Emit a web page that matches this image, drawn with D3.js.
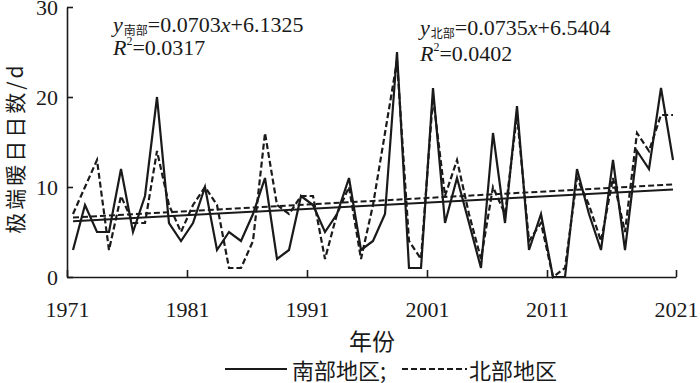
<!DOCTYPE html>
<html>
<head>
<meta charset="utf-8">
<script src="https://cdn.jsdelivr.net/npm/d3@7"></script>
<style>
  html, body { margin: 0; padding: 0; background: #fff; }
  svg { display: block; }
</style>
</head>
<body>
<svg id="chart" width="700" height="383"></svg>
<script>
// ---------- data ----------
const years = d3.range(1971, 2022);
const southValues = [3,8,5,5,12,5,9,20,6,4,
                     6,10,3,5,4,7,11,2,3,9,
                     8,5,7,11,3,4,7,25,1,1,
                     21,6,11,6,1,16,6,19,3,7,
                     0,0,12,7,3,13,3,14,12,21,13];
const northValues = [7,10,13,3,9,6,6,14,8,5,
                     8,10,8,1,1,4,16,8,7,9,
                     9,2,7,10,2,8,16,24,4,2,
                     20,9,13,7,2,10,7,18,4,6,
                     0,1,11,8,4,11,5,16,14,18,18];
const seriesNames = ["南部", "北部"];
const legendNames = ["南部地区;", "北部地区"];
const slopes = [0.0703, 0.0735];
const intercepts = [6.1325, 6.5404];
const r2Values = ["0.0317", "0.0402"];
const xTickYears = [1971, 1981, 1991, 2001, 2011, 2021];
const yTicks = [0, 10, 20, 30];
const yLabel = "极端暖日日数/d";
const xLabel = "年份";

// ---------- layout ----------
const svg = d3.select("#chart");
const ink = "#1a1a1a";
const serif = "'Liberation Serif', 'DejaVu Serif', serif";
const cjk = "'Noto Sans CJK SC', 'Noto Sans', sans-serif";

const xData = d3.scaleLinear().domain([1971, 2021]).range([73, 673]);
const xAxisScale = d3.scaleLinear().domain([1971, 2011, 2021]).range([67, 547, 676]);
const y = d3.scaleLinear().domain([0, 30]).range([277, 7]);

// axes
const gx = svg.append("g").attr("transform", `translate(0,${y(0)})`)
  .call(d3.axisBottom(xAxisScale).tickValues(xTickYears).tickFormat(d3.format("d"))
        .tickSizeInner(-7).tickSizeOuter(0).tickPadding(24));
const gy = svg.append("g").attr("transform", `translate(${xAxisScale(1971)},0)`)
  .call(d3.axisLeft(y).tickValues(yTicks).tickSizeInner(-6).tickSizeOuter(0).tickPadding(9));
[gx, gy].forEach(g => {
  g.selectAll("path, line").attr("stroke", ink).attr("stroke-width", 1.6);
  g.selectAll("text").attr("fill", ink).attr("font-family", serif).attr("font-size", 22);
});

// series lines
const line = d3.line().x((d, i) => xData(years[i])).y(d => y(d));
svg.append("path").datum(southValues).attr("d", line)
  .attr("fill", "none").attr("stroke", ink).attr("stroke-width", 2.2).attr("stroke-linejoin", "miter");
svg.append("path").datum(northValues).attr("d", line)
  .attr("fill", "none").attr("stroke", ink).attr("stroke-width", 2.2).attr("stroke-dasharray", "6,3");

// trend lines (x = 1..51)
[0, 1].forEach(k => {
  const pts = [years[0], years[years.length - 1]].map(yr => [xData(yr), y(slopes[k] * (yr - 1970) + intercepts[k])]);
  svg.append("path").attr("d", d3.line()(pts)).attr("fill", "none")
    .attr("stroke", ink).attr("stroke-width", 2)
    .attr("stroke-dasharray", k === 1 ? "6,3" : null);
});

// equations
const eqPos = [{x: 113, y1: 32, y2: 55}, {x: 420, y1: 35, y2: 61}];
[0, 1].forEach(k => {
  const p = eqPos[k];
  const t1 = svg.append("text").attr("x", p.x).attr("y", p.y1)
    .attr("font-family", serif).attr("font-size", 22).attr("fill", ink);
  t1.append("tspan").attr("font-style", "italic").text("y");
  t1.append("tspan").attr("font-family", cjk).attr("font-size", 12).attr("dx", 1).attr("dy", 3).text(seriesNames[k]);
  t1.append("tspan").attr("dy", -3).text("=" + slopes[k].toFixed(4));
  t1.append("tspan").attr("font-style", "italic").text("x");
  t1.append("tspan").text("+" + intercepts[k].toFixed(4));
  const t2 = svg.append("text").attr("x", p.x).attr("y", p.y2)
    .attr("font-family", serif).attr("font-size", 22).attr("fill", ink);
  t2.append("tspan").attr("font-style", "italic").text("R");
  t2.append("tspan").attr("font-size", 12).attr("dy", -10).text("2");
  t2.append("tspan").attr("dy", 10).text("=" + r2Values[k]);
});

// axis titles
svg.append("text").attr("transform", "translate(14,148) rotate(-90)")
  .attr("text-anchor", "middle").attr("dominant-baseline", "central")
  .attr("font-family", cjk).attr("font-size", 21).attr("letter-spacing", 3).attr("fill", ink)
  .text(yLabel);
svg.append("text").attr("x", 372).attr("y", 340)
  .attr("text-anchor", "middle").attr("dominant-baseline", "central")
  .attr("font-family", cjk).attr("font-size", 23).attr("fill", ink).text(xLabel);

// legend
const legend = [{x1: 225, x2: 287, tx: 292, dash: null}, {x1: 402, x2: 467, tx: 469, dash: "6,3"}];
legend.forEach((l, k) => {
  svg.append("line").attr("x1", l.x1).attr("x2", l.x2).attr("y1", 369).attr("y2", 369)
    .attr("stroke", ink).attr("stroke-width", 2).attr("stroke-dasharray", l.dash);
  svg.append("text").attr("x", l.tx).attr("y", 369).attr("dominant-baseline", "central")
    .attr("font-family", cjk).attr("font-size", 22).attr("fill", ink).text(legendNames[k]);
});
</script>
</body>
</html>
